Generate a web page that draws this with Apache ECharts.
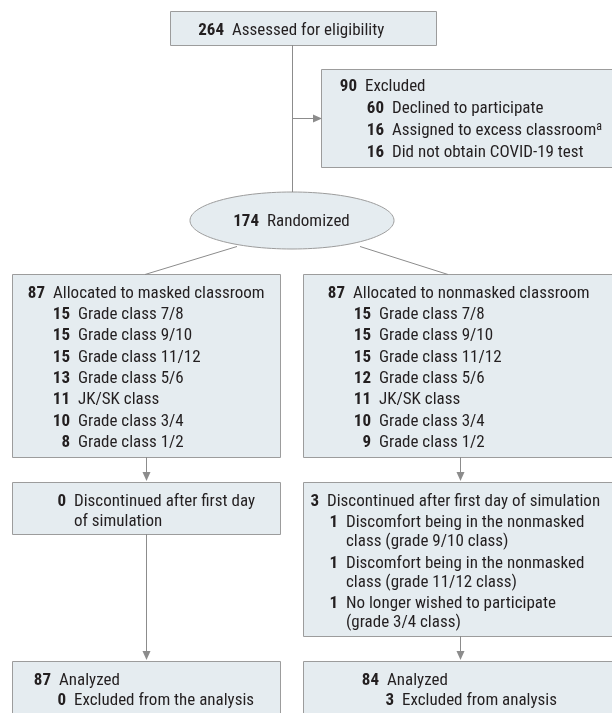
<!DOCTYPE html>
<html><head><meta charset="utf-8">
<script src="https://cdn.jsdelivr.net/npm/echarts@6/dist/echarts.min.js"></script>
<style>html,body{margin:0;padding:0;background:#fff}#c{width:612px;height:713px}</style>
</head><body><div id="c"></div>
<script>
// ---- data ----
const assessedCount = 264;
const assessedLabel = 'Assessed for eligibility';
const excludedCount = 90;
const excludedLabel = 'Excluded';
const excludedReasonCounts = [60, 16, 16];
const excludedReasons = ['Declined to participate', 'Assigned to excess classroom', 'Did not obtain COVID-19 test'];
const excludedNotes = ['', 'a', ''];
const randomizedCount = 174;
const randomizedLabel = 'Randomized';
const armLabels = ['Allocated to masked classroom', 'Allocated to nonmasked classroom'];
const armCounts = [87, 87];
const classNames = ['Grade class 7/8', 'Grade class 9/10', 'Grade class 11/12', 'Grade class 5/6', 'JK/SK class', 'Grade class 3/4', 'Grade class 1/2'];
const maskedClassCounts = [15, 15, 15, 13, 11, 10, 8];
const nonmaskedClassCounts = [15, 15, 15, 12, 11, 10, 9];
const discontinuedCounts = [0, 3];
const discontinuedLabels = ['Discontinued after first day\nof simulation', 'Discontinued after first day of simulation'];
const nonmaskedDiscReasons = ['Discomfort being in the nonmasked\nclass (grade 9/10 class)', 'Discomfort being in the nonmasked\nclass (grade 11/12 class)', 'No longer wished to participate\n(grade 3/4 class)'];
const nonmaskedDiscCounts = [1, 1, 1];
const analyzedCounts = [87, 84];
const analyzedLabel = 'Analyzed';
const analysisExcludedCounts = [0, 3];
const analysisExcludedLabels = ['Excluded from the analysis', 'Excluded from analysis'];

// ---- style / layout ----
const FONT = '"Roboto Condensed", "Liberation Sans", sans-serif';
const FS = 17;
const TXT = '#231f20';
const FILL = '#e5ecf0';
const BORDER = '#9c9c9c';
const LINE = '#8c8c8c';
const GAP = 8;
const DY = 1.5; // text baseline nudge
const els = [];

function box(x1, y1, x2, y2) {
  els.push({type: 'rect', shape: {x: x1 + 0.5, y: y1 + 0.5, width: x2 - x1, height: y2 - y1},
    style: {fill: FILL, stroke: BORDER, lineWidth: 1}, z: 1});
}
function seg(x1, y1, x2, y2) {
  els.push({type: 'line', shape: {x1: x1, y1: y1, x2: x2, y2: y2}, style: {stroke: LINE, lineWidth: 1}, z: 2});
}
function arrowDown(x, y1, y2) {
  seg(x + 0.5, y1, x + 0.5, y2 - 6);
  els.push({type: 'polygon', shape: {points: [[x - 3.5, y2 - 9], [x + 4.5, y2 - 9], [x + 0.5, y2]]}, style: {fill: LINE}, z: 2});
}
function arrowRight(x1, x2, y) {
  seg(x1, y + 0.5, x2 - 6, y + 0.5);
  els.push({type: 'polygon', shape: {points: [[x2 - 9, y - 3.5], [x2 - 9, y + 4.5], [x2, y + 0.5]]}, style: {fill: LINE}, z: 2});
}
function num(n, xr, y) {
  els.push({type: 'text', x: xr, y: y + DY, z: 3, style: {text: String(n), font: 'bold ' + FS + 'px ' + FONT,
    fill: TXT, textAlign: 'right', textVerticalAlign: 'middle'}});
}
function lab(t, x, y, note) {
  if (note) {
    els.push({type: 'text', x: x, y: y + DY, z: 3, style: {text: '{l|' + t + '}{s|' + note + '}', textAlign: 'left', textVerticalAlign: 'middle',
      rich: {l: {fontFamily: '"Roboto Condensed"', fontSize: FS, fill: TXT, lineHeight: 20},
             s: {fontFamily: '"Roboto Condensed"', fontSize: 12, fill: TXT, verticalAlign: 'top', lineHeight: 15}}}});
  } else {
    els.push({type: 'text', x: x, y: y + DY, z: 3, style: {text: t, font: FS + 'px ' + FONT, fill: TXT, textAlign: 'left', textVerticalAlign: 'middle'}});
  }
}
function entry(n, t, labelX, y, wrapStep, note) {
  num(n, labelX - GAP, y);
  const parts = t.split('\n');
  parts.forEach((p, i) => lab(p, labelX, y + i * wrapStep, note && i === parts.length - 1 ? note : ''));
  return parts.length;
}

// top box
box(170, 11, 436, 45);
entry(assessedCount, assessedLabel, 232, 29, 20);
seg(292.5, 45, 292.5, 192);
arrowRight(292, 322, 118);

// excluded box
box(321, 69, 614, 167);
entry(excludedCount, excludedLabel, 365, 85, 20);
excludedReasons.forEach((r, i) => entry(excludedReasonCounts[i], r, 392, 107 + i * 22, 20, excludedNotes[i]));

// randomized ellipse
els.push({type: 'ellipse', shape: {cx: 292, cy: 220.5, rx: 102, ry: 28.5}, style: {fill: FILL, stroke: BORDER, lineWidth: 1}, z: 1});
entry(randomizedCount, randomizedLabel, 267, 220, 20);
seg(237, 246.5, 145, 274.5);
seg(360, 246.5, 448, 274.5);

// allocation boxes
const armBoxes = [[12, 280], [303, 614]];
const armHeadX = [53, 353];
const armSubX = [78, 379];
const armClassCounts = [maskedClassCounts, nonmaskedClassCounts];
const arrowX = [146, 460];
armBoxes.forEach((b, k) => {
  box(b[0], 274, b[1], 457);
  entry(armCounts[k], armLabels[k], armHeadX[k], 292, 20);
  classNames.forEach((c, i) => entry(armClassCounts[k][i], c, armSubX[k], 292 + (i + 1) * 21.3, 20));
  arrowDown(arrowX[k], 457, 481);
});

// discontinued boxes
box(12, 482, 280, 534);
entry(discontinuedCounts[0], discontinuedLabels[0], 74, 500, 20);
box(303, 482, 614, 636);
entry(discontinuedCounts[1], discontinuedLabels[1], 327, 500, 20);
let yy = 500;
nonmaskedDiscReasons.forEach((r, i) => {
  yy += 21.5;
  const n = entry(nonmaskedDiscCounts[i], r, 346, yy, 19);
  yy += (n - 1) * 19;
});
arrowDown(146, 534, 660);
arrowDown(460, 636, 660);

// analyzed boxes
const anHeadX = [59, 387];
const anSubX = [74, 402];
armBoxes.forEach((b, k) => {
  box(b[0], 661, b[1], 720);
  entry(analyzedCounts[k], analyzedLabel, anHeadX[k], 679, 20);
  entry(analysisExcludedCounts[k], analysisExcludedLabels[k], anSubX[k], 699, 20);
});

const ch = echarts.init(document.getElementById('c'), null, {renderer: 'canvas'});
ch.setOption({animation: false, graphic: {elements: els}});
</script></body></html>
